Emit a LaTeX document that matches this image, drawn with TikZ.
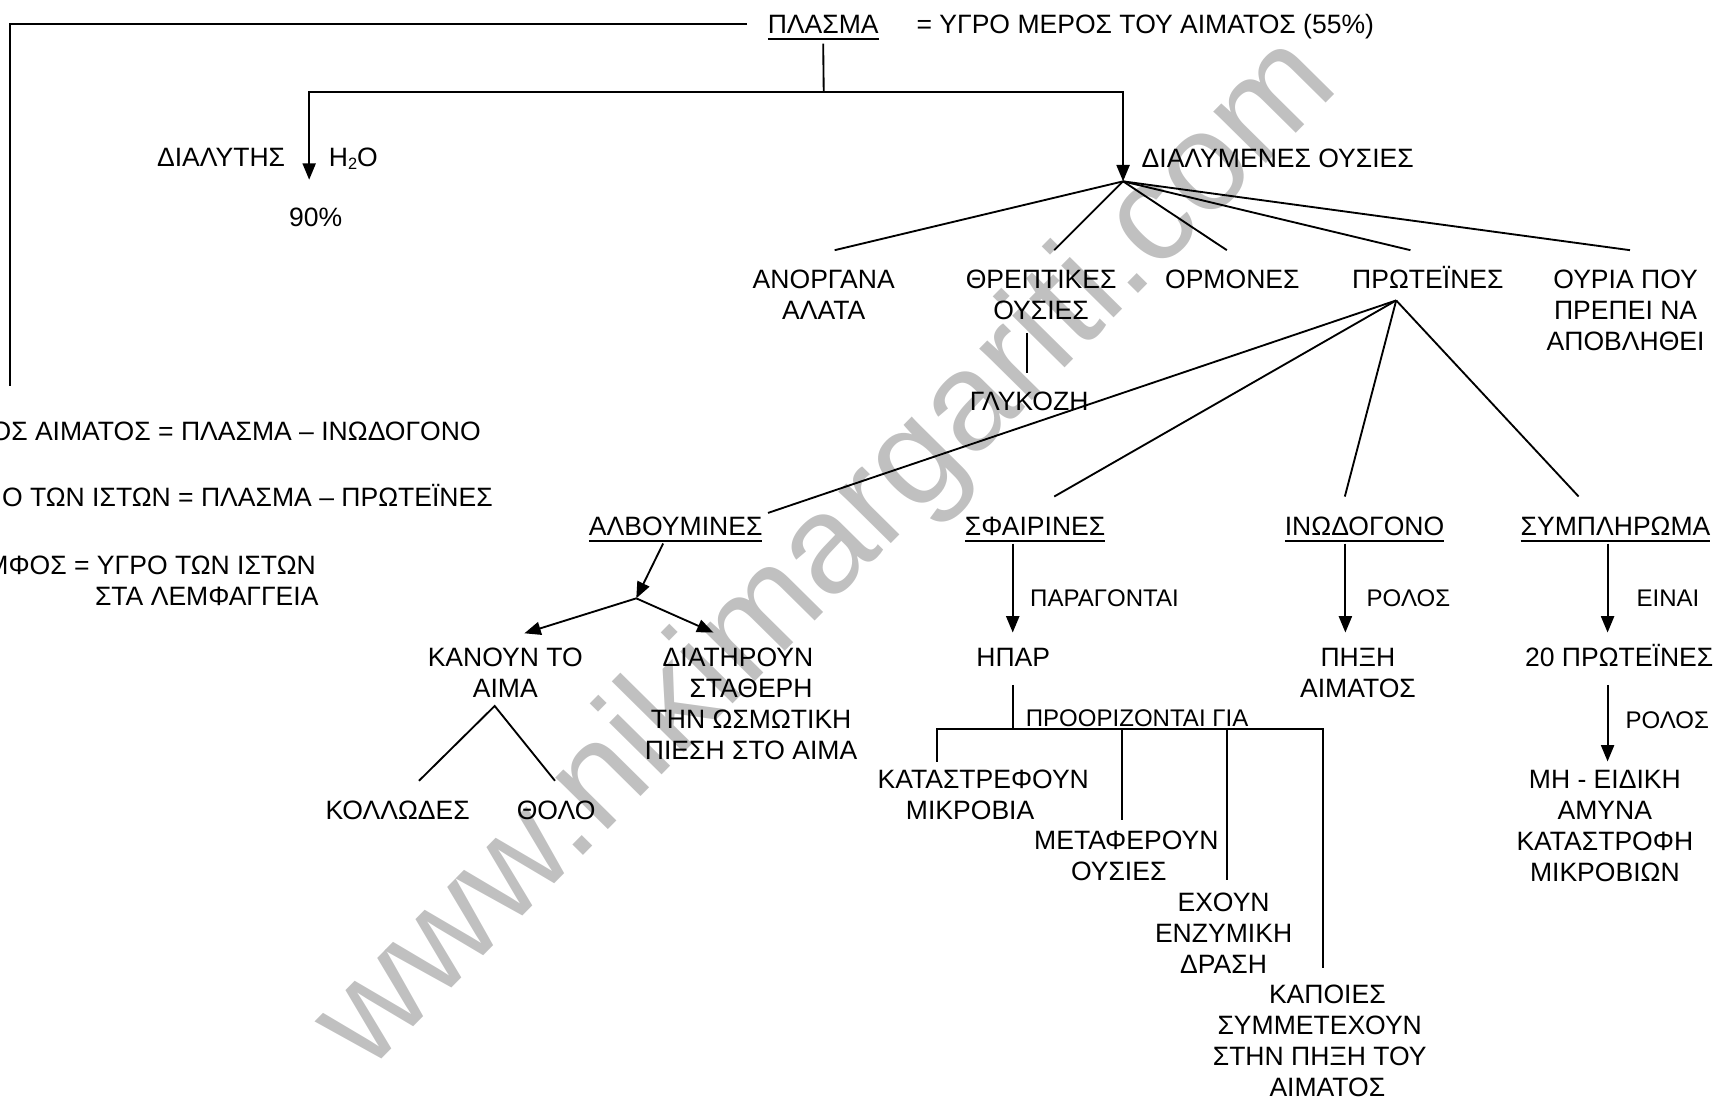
\documentclass[tikz,border=0pt]{standalone}
\usepackage{fontspec}
\setmainfont{Liberation Sans}
\usetikzlibrary{arrows.meta}
\definecolor{wmgray}{RGB}{192,192,192}
\tikzset{
  txt/.style={font=\fontsize{24.3}{28.4}\selectfont, inner sep=0pt, outer sep=0pt, anchor=base, align=center},
  two/.style={yshift=-28.4pt},
  three/.style={yshift=-56.8pt},
  four/.style={yshift=-85.2pt},
  lbl/.style={font=\fontsize{22}{26}\selectfont, inner sep=0pt, outer sep=0pt, anchor=base west},
  ln/.style={line width=1.7pt},
  arr/.style={line width=1.7pt, -{Triangle[length=15pt,width=12pt]}},
  ulin/.style={line width=1.8pt},
  wm/.style={font=\fontsize{127.6}{130}\selectfont, text=wmgray, inner sep=0pt, anchor=base west, rotate=45.35}
}
\begin{document}
\begin{tikzpicture}[x=1pt,y=-1pt]
\useasboundingbox (0,0) rectangle (1568,1006);
\clip (0,0) rectangle (1568,1006);
% watermark
\node[wm] (wmark) at (336,983) {www.nikimargariti.com};

% ---------- top ----------
\node[txt] (plasma) at (753.5,31) {ΠΛΑΣΜΑ};
\draw[ulin] ([yshift=-5pt]plasma.base west) -- ([yshift=-5pt]plasma.base east);
\node[txt, anchor=base west] (plasmadef) at (839,31) {= ΥΓΡΟ ΜΕΡΟΣ ΤΟΥ ΑΙΜΑΤΟΣ (55\%)};
\coordinate (c-lb) at (9.5,353);
\draw[ln] ([shift={(-19pt,8.7pt)}]plasma.base west) -| (c-lb);

\coordinate (c-pl) at (754,84.5);
\coordinate (c-diatip) at (283,164.5);
\coordinate (fan) at (1028,166);
\draw[ln] ([yshift=-9pt]plasma.base) -- (c-pl);
\draw[arr] (c-pl) -| (c-diatip);
\draw[arr] (c-pl) -| (fan);

\node[txt, anchor=base east] (dialytis) at (261,152.5) {ΔΙΑΛΥΤΗΣ};
\node[txt, anchor=base west] (h2o) at (301,152.5) {H\raisebox{-3pt}{\fontsize{15}{15}\selectfont 2}O};
\node[txt] (ninety) at (289,207.5) {90\%};
\node[txt, anchor=base west] (dialym) at (1045,153) {ΔΙΑΛΥΜΕΝΕΣ ΟΥΣΙΕΣ};

% ---------- dissolved substances ----------
\node[txt, two] (anorg) at (754,264) {ΑΝΟΡΓΑΝΑ\\ΑΛΑΤΑ};
\node[txt, two] (thrept) at (953,264) {ΘΡΕΠΤΙΚΕΣ\\ΟΥΣΙΕΣ};
\node[txt] (ormon) at (1128,264) {ΟΡΜΟΝΕΣ};
\node[txt] (prot) at (1307,264) {ΠΡΩΤΕΪΝΕΣ};
\node[txt, three] (ouria) at (1488,264) {ΟΥΡΙΑ ΠΟΥ\\ΠΡΕΠΕΙ ΝΑ\\ΑΠΟΒΛΗΘΕΙ};
\coordinate (e-anorg) at (764,229);
\coordinate (e-thrept) at (965,229);
\coordinate (e-ormon) at (1123,229);
\coordinate (e-prot) at (1291,229);
\coordinate (e-ouria) at (1492,229);
\foreach \e in {anorg,thrept,ormon,prot,ouria} \draw[ln] (fan) -- (e-\e);

\coordinate (t-top) at (940,305);
\coordinate (t-bot) at (940,341);
\draw[ln] (t-top) -- (t-bot);
\node[txt] (glyk) at (942,375.5) {ΓΛΥΚΟΖΗ};

% ---------- proteins ----------
\coordinate (papex) at (1278,275);
\coordinate (e-alb) at (703,469.5);
\coordinate (e-sfa) at (965,454.5);
\coordinate (e-ino) at (1231,454.5);
\coordinate (e-sym) at (1445,454.5);
\foreach \e in {alb,sfa,ino,sym} \draw[ln] (papex) -- (e-\e);

\node[txt] (alb) at (618.5,490.6) {ΑΛΒΟΥΜΙΝΕΣ};
\node[txt] (sfa) at (947.5,490.6) {ΣΦΑΙΡΙΝΕΣ};
\node[txt] (ino) at (1249,490.6) {ΙΝΩΔΟΓΟΝΟ};
\node[txt, anchor=base west] (sym) at (1392,490.6) {ΣΥΜΠΛΗΡΩΜΑ};
\foreach \n in {alb,sfa,ino,sym}
  \draw[ulin] ([yshift=-4.5pt]\n.base west) -- ([yshift=-4.5pt]\n.base east);

% albumins
\coordinate (a-s) at (607,497.5);
\coordinate (a-j) at (582.4,547.7);
\coordinate (a-l) at (480,579.7);
\coordinate (a-r) at (653,579);
\draw[arr] (a-s) -- (a-j);
\draw[arr] (a-j) -- (a-l);
\draw[arr] (a-j) -- (a-r);
\node[txt, two] (kanoun) at (462.5,610) {ΚΑΝΟΥΝ ΤΟ\\ΑΙΜΑ};
\node[txt, four] (diatir) at (687.5,610) {ΔΙΑΤΗΡΟΥΝ\hspace*{24pt}\\ΣΤΑΘΕΡΗ\hspace*{36pt}\\ΤΗΝ ΩΣΜΩΤΙΚΗ\\ΠΙΕΣΗ ΣΤΟ ΑΙΜΑ};
\coordinate (k-ap) at (452.8,646.2);
\coordinate (k-l) at (383.5,714.7);
\coordinate (k-r) at (508,714.7);
\draw[ln] (k-l) -- (k-ap) -- (k-r);
\node[txt] (kollod) at (364,750.5) {ΚΟΛΛΩΔΕΣ};
\node[txt] (tholo) at (509,750.5) {ΘΟΛΟ};

% globulins
\coordinate (s-tip) at (927,579);
\draw[arr] ([yshift=-7pt]sfa.base west -| s-tip) -- (s-tip);
\node[lbl] (parag) at (943,555.6) {ΠΑΡΑΓΟΝΤΑΙ};
\node[txt] (hpar) at (927.5,610.2) {ΗΠΑΡ};
\coordinate (h-top) at (927,627);
\coordinate (h-j) at (927,667);
\coordinate (h-l) at (857.5,697.2);
\coordinate (h-m1) at (1027.4,750.6);
\coordinate (h-m2) at (1123,805.5);
\coordinate (h-r) at (1211.3,886.3);
\draw[ln] (h-top) -- (h-j);
\draw[ln] (h-l) |- (h-r |- h-j) -- (h-r);
\draw[ln] (h-m1 |- h-j) -- (h-m1);
\draw[ln] (h-m2 |- h-j) -- (h-m2);
\node[lbl] (proor) at (939,665) {ΠΡΟΟΡΙΖΟΝΤΑΙ ΓΙΑ};
\node[txt, two] (katastr) at (900,721.6) {ΚΑΤΑΣΤΡΕΦΟΥΝ\\ΜΙΚΡΟΒΙΑ\hspace*{24pt}};
\node[txt, two] (metaf) at (1031,778) {ΜΕΤΑΦΕΡΟΥΝ\\ΟΥΣΙΕΣ\hspace*{14pt}};
\node[txt, three] (exoun) at (1120,834.4) {ΕΧΟΥΝ\\ΕΝΖΥΜΙΚΗ\\ΔΡΑΣΗ};
\node[txt, four] (kapoies) at (1208,918.3) {\hspace*{14pt}ΚΑΠΟΙΕΣ\\ΣΥΜΜΕΤΕΧΟΥΝ\\ΣΤΗΝ ΠΗΞΗ ΤΟΥ\\\hspace*{14pt}ΑΙΜΑΤΟΣ};

% fibrinogen
\coordinate (i-tip) at (1231.5,579);
\draw[arr] ([yshift=-7pt]ino.base west -| i-tip) -- (i-tip);
\node[lbl] (rolos1) at (1251,555.6) {ΡΟΛΟΣ};
\node[txt, two] (pixi) at (1243,610) {ΠΗΞΗ\\ΑΙΜΑΤΟΣ};

% complement
\coordinate (y-tip) at (1471.5,579);
\draw[arr] ([yshift=-7pt]sym.base west -| y-tip) -- (y-tip);
\node[lbl] (einai) at (1498,555.6) {ΕΙΝΑΙ};
\node[txt, anchor=base west] (prot20) at (1396,610) {20 ΠΡΩΤΕΪΝΕΣ};
\coordinate (y2-top) at (1471.5,627);
\coordinate (y2-tip) at (1471.5,697);
\draw[arr] (y2-top) -- (y2-tip);
\node[lbl] (rolos2) at (1488,666.8) {ΡΟΛΟΣ};
\node[txt, four] (amyna) at (1469,721.6) {ΜΗ - ΕΙΔΙΚΗ\\ΑΜΥΝΑ\\ΚΑΤΑΣΤΡΟΦΗ\\ΜΙΚΡΟΒΙΩΝ};

% ---------- left notes ----------
\node[txt, anchor=base east] (n1) at (440,403) {ΟΣ ΑΙΜΑΤΟΣ = ΠΛΑΣΜΑ – ΙΝΩΔΟΓΟΝΟ};
\node[txt, anchor=base east] (n2) at (451,463.2) {Ο ΤΩΝ ΙΣΤΩΝ = ΠΛΑΣΜΑ – ΠΡΩΤΕΪΝΕΣ};
\node[txt, anchor=base east] (n3) at (289,525.7) {ΜΦΟΣ = ΥΓΡΟ ΤΩΝ ΙΣΤΩΝ};
\node[txt, anchor=base west] (n4) at (87,553.8) {ΣΤΑ ΛΕΜΦΑΓΓΕΙΑ};
\end{tikzpicture}
\end{document}
